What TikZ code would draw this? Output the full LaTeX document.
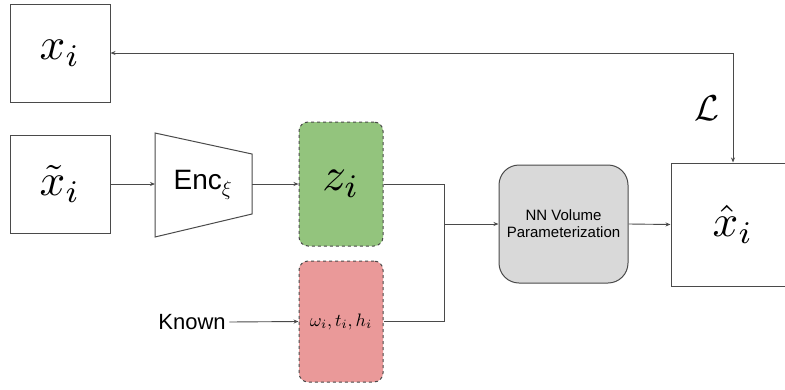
\documentclass[tikz,border=0pt]{standalone}
\usepackage{fontspec}
\setsansfont{Liberation Sans}
\usetikzlibrary{arrows.meta}
\definecolor{lgreen}{HTML}{93C47D}
\definecolor{lred}{HTML}{EA9999}
\definecolor{lgray}{HTML}{D9D9D9}
\definecolor{edge}{HTML}{4A4A4A}
\newcommand{\scm}[2]{\scalebox{#1}{$#2$}}
\begin{document}
\begin{tikzpicture}[x=1pt,y=-1pt,
  line width=0.9pt,
  arr/.style={-{Stealth[length=5pt,width=4pt]}, draw=edge},
  plainbox/.style={draw=edge, line width=1pt, inner sep=0pt},
  latent/.style={draw=edge, dashed, line width=1pt, rounded corners=9pt, inner sep=0pt,
    minimum width=84pt},
  sflabel/.style={font=\sffamily}
]
\useasboundingbox (0,0) rectangle (785,389);
\begin{scope}
\clip (0,0) rectangle (785,389);
% boxes
\node[plainbox, minimum width=100pt, minimum height=98pt] (xi) at (60,53) {\scm{4.5}{x_i}};
\node[plainbox, minimum width=100pt, minimum height=98pt] (xt) at (60,184) {\scm{4.5}{\tilde{x}_i}};
% encoder trapezoid
\draw[edge, line width=1pt, fill=white] (155,133) -- (252,154) -- (252,214) -- (155,237) -- cycle;
\coordinate (encL) at (155,184);
\coordinate (encR) at (252,184);
\node[sflabel, font=\sffamily\fontsize{28}{32}\selectfont] (enc) at (203,185) {Enc$_{\xi}$};
% latent boxes
\node[latent, fill=lgreen, minimum height=124pt] (z) at (341,184) {\scm{4.7}{z_i}};
\node[latent, fill=lred, minimum height=121pt] (om) at (341,321.5) {\scm{1.8}{\omega_i, t_i, h_i}};
% NN
\node[draw=edge, line width=1pt, fill=lgray, rounded corners=20pt, minimum width=129pt, minimum height=118pt,
  align=center, font=\sffamily\fontsize{15}{17}\selectfont] (nn) at (563.5,224) {NN Volume\\Parameterization};
% output
\node[plainbox, minimum width=124pt, minimum height=123pt] (xh) at (733,224.5) {\scm{4.5}{\hat{x}_i}};
% Known
\node[font=\sffamily\fontsize{22}{26}\selectfont] (known) at (192,322) {Known};
% connectors
\draw[arr] (xt.east) -- (encL);
\draw[arr] (encR) -- (z.west);
\coordinate (ja) at (444,184);
\coordinate (jb) at (444,321.5);
\coordinate (jm) at (444,224);
\draw[edge] (z.east) -- (ja) -- (jb) -- (om.east);
\draw[arr] (jm) -- (nn.west);
\draw[arr] (nn.east) -- (xh.west);
\draw[arr] (known.east) -- (om.west);
\draw[{Stealth[length=5pt,width=4pt]}-{Stealth[length=5pt,width=4pt]}, draw=edge] (xi.east) -| (xh.north);
\node (L) at (707,108) {\scm{3.6}{\mathcal{L}}};
\end{scope}
\end{tikzpicture}
\end{document}
